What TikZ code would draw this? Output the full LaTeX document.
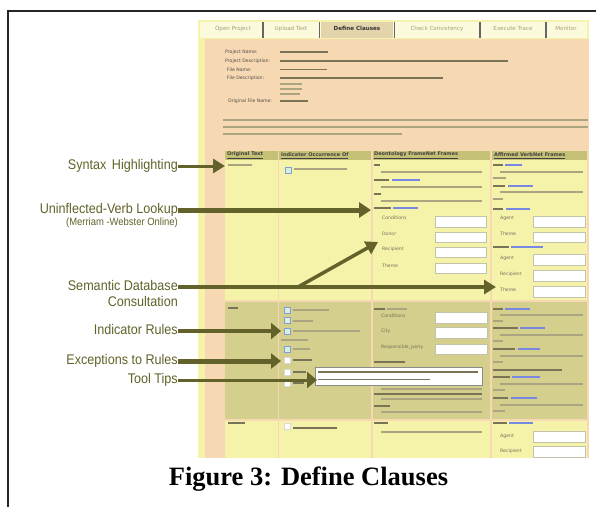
\documentclass[tikz,border=0pt]{standalone}
\usepackage{fontspec}
\setmainfont{Liberation Serif}
\newfontfamily\labfont[FakeStretch=0.9]{Liberation Sans}
\newfontfamily\scrfont{DejaVu Sans}
\usetikzlibrary{arrows.meta}
\definecolor{peach}{RGB}{246,216,178}
\definecolor{lyel}{RGB}{245,242,170}
\definecolor{olrow}{RGB}{212,207,140}
\definecolor{hdr}{RGB}{196,192,118}
\definecolor{acttab}{RGB}{228,212,172}
\definecolor{olive}{RGB}{98,98,42}
\definecolor{scrtxt}{RGB}{115,112,90}
\definecolor{barcol}{RGB}{170,165,128}
\definecolor{darkbar}{RGB}{120,116,85}
\definecolor{linkblue}{RGB}{120,135,225}
\definecolor{boxedge}{RGB}{195,195,170}
\definecolor{tabtxt}{RGB}{165,160,115}
\begin{document}
\begin{tikzpicture}[x=1pt,y=-1pt,
  lab/.style={anchor=east,inner sep=0pt,text=olive,text height=10pt,text depth=3pt,
    font=\labfont\fontsize{14}{16}\selectfont},
  sublab/.style={anchor=base east,inner sep=0pt,text=olive,font=\labfont\fontsize{10.5}{12}\selectfont},
  arr/.style={draw=olive,-{Triangle[length=12pt,width=14pt]}},
  tabtext/.style={inner sep=0pt,text=tabtxt,font=\scrfont\fontsize{5.6}{6}\selectfont},
  sl/.style={anchor=west,inner sep=0pt,text=scrtxt,font=\scrfont\fontsize{4.6}{5}\selectfont},
  hl/.style={anchor=west,inner sep=0pt,text=black!75,font=\scrfont\bfseries\fontsize{5}{6}\selectfont},
  tb/.style={line width=2pt,draw=barcol},
  db/.style={line width=2pt,draw=darkbar},
  lb/.style={line width=2pt,draw=linkblue},
  inbox/.style={fill=white,draw=boxedge,line width=0.6pt},
  chk/.style={fill=white!70!cyan!30!green!20,draw=cyan!40!blue!50,line width=0.5pt},
  unchk/.style={fill=white,draw=white!85!black,line width=0.4pt},
  sep/.style={draw=peach,line width=1.6pt}]
\useasboundingbox (0,0) rectangle (596,507);
\fill[white] (0,0) rectangle (596,507);
% outer frame
\draw[line width=2pt,black!85] (7.5,507) -- (7.5,11) -- (596,11);

% ---------- screenshot ----------
\fill[lyel] (198,20) rectangle (589,458);
\fill[peach] (205,39) rectangle (589,458);
% tabs
\fill[white!60!lyel] (200,22) rectangle (587,38);
\fill[acttab] (321,22) rectangle (393,38);
\foreach \x in {263,319.5,394.5,480,546}
  \draw[line width=1.2pt,black!60] (\x,22) -- (\x,38);
\node[tabtext] (tab1) at (233,28.5) {Open Project};
\node[tabtext] (tab2) at (291,28.5) {Upload Text};
\node[tabtext,text=black!80,font=\scrfont\bfseries\fontsize{5.6}{6}\selectfont] (tab3) at (357,28.5) {Define Clauses};
\node[tabtext] (tab4) at (437,28.5) {Check Consistency};
\node[tabtext] (tab5) at (513,28.5) {Execute Trace};
\node[tabtext] (tab6) at (566,28.5) {Monitor};

% project info
\node[sl,text=black!70] (p1) at (225,52) {Project Name:};
\node[sl,text=black!70] (p2) at (225,61) {Project Description:};
\node[sl,text=black!70] (p3) at (227,69.5) {File Name:};
\node[sl,text=black!70] (p4) at (227,78) {File Description:};
\node[sl,text=black!70] (p5) at (228,101) {Original File Name:};
\draw[db,line width=1.8pt] (280,52) -- (328,52);
\draw[db,line width=1.8pt] (280,61) -- (508,61);
\draw[db,line width=1.8pt] (280,69.5) -- (327,69.5);
\draw[db,line width=1.8pt] (280,78) -- (443,78);
\draw[tb,line width=1.4pt] (280,84) -- (302,84);
\draw[tb,line width=1.4pt] (280,89) -- (302,89);
\draw[tb,line width=1.4pt] (280,94) -- (300,94);
\draw[db,line width=1.8pt] (280,101) -- (308,101);
% paragraph
\draw[tb] (223,120) -- (588,120);
\draw[tb] (223,127.3) -- (588,127.3);
\draw[tb] (223,134.3) -- (402,134.3);

% table
\fill[hdr] (225,151) rectangle (587,160);
\fill[lyel] (225,160) rectangle (587,300);
\fill[olrow] (225,302) rectangle (587,419);
\fill[lyel] (225,421) rectangle (587,458);
\foreach \x in {278.5,372,491}
  \draw[sep] (\x,151) -- (\x,458);
\node[hl] (h1) at (227,155.5) {\underline{Original Text}};
\node[hl] (h2) at (281,155.5) {\underline{Indicator Occurrence Of}};
\node[hl] (h3) at (374,155.5) {\underline{Deontology FrameNet Frames}};
\node[hl] (h4) at (494,155.5) {\underline{Affirmed VerbNet Frames}};

% row 1
\draw[tb] (228,165) -- (252,165);
\draw[chk] (285,167) rectangle (291,173);
\draw[tb] (294,169) -- (347,169);
\draw[db] (374,165) -- (380,165);
\draw[tb] (381,172) -- (482,172);
\draw[db] (374,180) -- (389,180); \draw[lb] (392,180) -- (420,180);
\draw[tb] (381,187) -- (482,187);
\draw[db] (374,194) -- (381,194);
\draw[tb] (381,201) -- (482,201);
\draw[db] (374,208) -- (391,208); \draw[lb] (393,208) -- (418,208);
\node[sl] (r1a) at (382,218) {Conditions};
\node[sl] (r1b) at (382,234) {Donor};
\node[sl] (r1c) at (382,249.5) {Recipient};
\node[sl] (r1d) at (382,265.5) {Theme};
\draw[inbox] (435,216) rectangle (486,227);
\draw[inbox] (435,232) rectangle (486,242);
\draw[inbox] (435,247) rectangle (486,257);
\draw[inbox] (435,263) rectangle (486,273);
\draw[db] (493,165) -- (503,165); \draw[lb] (505,165) -- (522,165);
\draw[tb] (500,172) -- (583,172);
\draw[tb] (493,178) -- (506,178);
\draw[db] (493,186) -- (505,186); \draw[lb] (508,186) -- (533,186);
\draw[tb] (500,192) -- (583,192);
\draw[tb] (493,199) -- (503,199);
\draw[db] (493,209) -- (503,209); \draw[lb] (506,209) -- (530,209);
\node[sl] (r1e) at (500,218) {Agent};
\node[sl] (r1f) at (500,234) {Theme};
\draw[db] (493,247) -- (509,247); \draw[lb] (511,247) -- (543,247);
\node[sl] (r1g) at (500,258) {Agent};
\node[sl] (r1h) at (500,274) {Recipient};
\node[sl] (r1i) at (500,290) {Theme};
\draw[inbox] (533,216) rectangle (585,227);
\draw[inbox] (533,232) rectangle (585,242);
\draw[inbox] (533,254) rectangle (585,265);
\draw[inbox] (533,270) rectangle (585,281);
\draw[inbox] (533,286) rectangle (585,297);

% row 2
\draw[db] (228,308) -- (238,308);
\foreach \y in {310,320.5,331,349} \draw[chk] (284,\y-3) rectangle (290,\y+3);
\foreach \y in {360,372,383} \draw[unchk] (284,\y-3) rectangle (290,\y+3);
\draw[tb] (293,310) -- (329,310);
\draw[tb] (293,320.5) -- (313,320.5);
\draw[tb] (293,331) -- (360,331);
\draw[tb] (281,340) -- (308,340);
\draw[tb] (293,349) -- (310,349);
\draw[db] (293,360) -- (312,360);
\draw[db] (293,372) -- (306,372);
\draw[db] (293,383) -- (304,383);
\draw[db] (374,309) -- (385,309); \draw[tb] (387,309) -- (407,309);
\node[sl] (r2a) at (381,315.5) {Conditions};
\node[sl] (r2b) at (381,331.5) {City};
\node[sl] (r2c) at (381,347.5) {Responsible\_party};
\draw[inbox] (435,312) rectangle (487,323);
\draw[inbox] (435,327) rectangle (487,338);
\draw[inbox] (435,344) rectangle (487,354);
\draw[db] (374,362) -- (405,362);
\draw[tb] (381,388.5) -- (482,388.5);
\draw[db] (374,393.5) -- (482,393.5);
\draw[tb] (381,399) -- (482,399);
\draw[db] (374,405.5) -- (390,405.5);
\draw[tb] (381,411.5) -- (482,411.5);
\draw[db] (493,309) -- (503,309); \draw[lb] (505,309) -- (530,309);
\draw[tb] (500,315) -- (583,315);
\draw[tb] (493,321) -- (503,321);
\draw[db] (493,328) -- (518,328); \draw[lb] (520,328) -- (545,328);
\draw[tb] (500,335) -- (583,335);
\draw[tb] (493,341) -- (503,341);
\draw[db] (493,349) -- (515,349); \draw[lb] (518,349) -- (540,349);
\draw[tb] (500,356) -- (583,356);
\draw[tb] (493,362) -- (503,362);
\draw[db] (493,370) -- (562,370);
\draw[db] (493,377) -- (510,377); \draw[lb] (512,377) -- (540,377);
\draw[tb] (500,384) -- (583,384);
\draw[tb] (493,390) -- (505,390);
\draw[db] (493,398) -- (508,398); \draw[lb] (511,398) -- (537,398);
\draw[tb] (500,405) -- (583,405);
\draw[tb] (493,411) -- (505,411);
% tooltip
\draw[fill=white,draw=black!45,line width=0.6pt] (315,367) rectangle (482,385);
\draw[db,line width=1.6pt] (318,372) -- (478,372);
\draw[db,line width=1.6pt] (318,379.5) -- (430,379.5);

% row 3
\draw[db] (228,423) -- (245,423);
\draw[unchk] (284,423) rectangle (290,429);
\draw[db] (293,428) -- (337,428);
\draw[db] (374,423) -- (388,423);
\draw[tb] (381,432) -- (482,432);
\draw[db] (493,423) -- (507,423); \draw[lb] (509,423) -- (533,423);
\node[sl] (r3a) at (500,436) {Agent};
\node[sl] (r3b) at (500,451) {Recipient};
\draw[inbox] (533,431) rectangle (585,442);
\draw[inbox] (533,446) rectangle (585,457);

% ---------- labels and arrows ----------
\node[lab] (syn) at (178,166) {Syntax\hspace{2pt} Highlighting};
\node[lab] (uvl) at (178,210) {Uninflected-Verb Lookup};
\node[sublab] (mw) at (178,225.5) {(Merriam -Webster Online)};
\node[lab] (sdb) at (178,287) {Semantic Database};
\node[lab,anchor=base east] (cons) at (178,306.5) {Consultation};
\node[lab] (ind) at (178,331) {Indicator Rules};
\node[lab] (exc) at (178,361) {Exceptions to Rules};
\node[lab] (tt) at (178,380) {Tool Tips};

\coordinate (t-syn) at (225,166);
\coordinate (t-uvl) at (371,210);
\coordinate (t-sdb) at (496,287);
\coordinate (b-sdb) at (298,287);
\coordinate (t-sdb2) at (378,242);
\coordinate (t-ind) at (281,331);
\coordinate (t-exc) at (281,361);
\coordinate (t-tt) at (317,380);

\draw[arr,line width=3pt] (syn.east) -- (t-syn);
\draw[arr,line width=5pt,-{Triangle[length=12pt,width=15pt]}] (uvl.east) -- (t-uvl);
\draw[arr,line width=3.5pt] (sdb.east) -- (t-sdb);
\draw[arr,line width=3.5pt] (b-sdb) -- (t-sdb2);
\draw[arr,line width=4pt,-{Triangle[length=10pt,width=16pt]}] (ind.east) -- (t-ind);
\draw[arr,line width=5pt,-{Triangle[length=10pt,width=15pt]}] (exc.east) -- (t-exc);
\draw[arr,line width=3pt,-{Triangle[length=10pt,width=16pt]}] (tt.east) -- (t-tt);

% caption
\node[anchor=base,inner sep=0pt,font=\bfseries\fontsize{26.5}{30}\selectfont] (cap) at (308.5,485) {Figure 3: Define Clauses};
\end{tikzpicture}
\end{document}
